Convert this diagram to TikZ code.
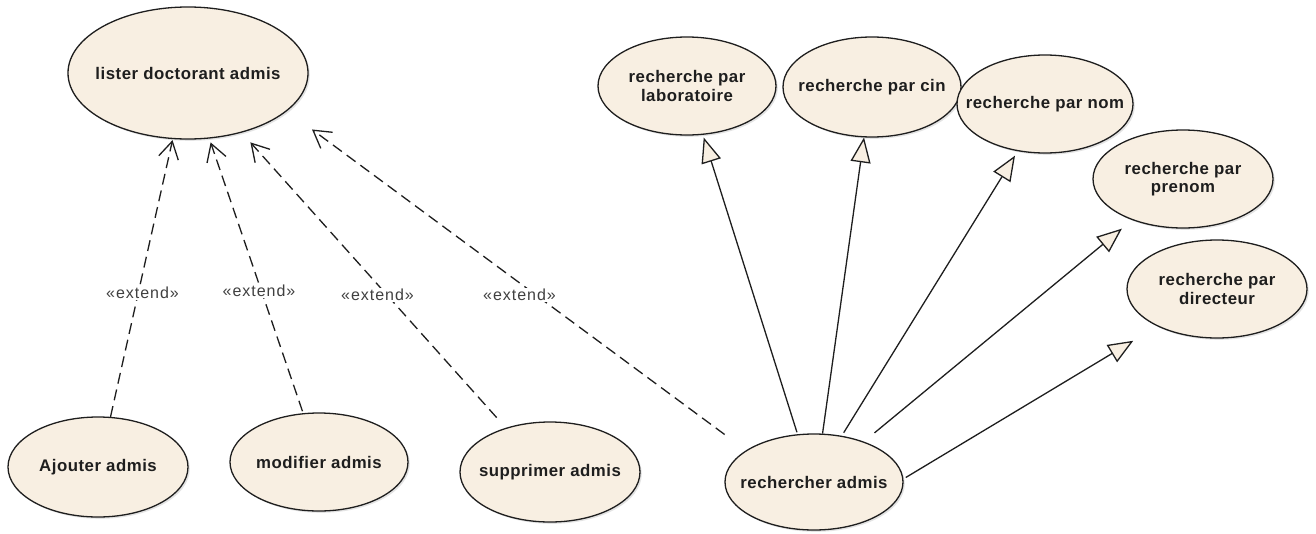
\documentclass[tikz,border=0pt]{standalone}
\usepackage{fontspec}
\setmainfont{Liberation Sans}[LetterSpace=3]
\newfontfamily\lblfont[LetterSpace=6]{Liberation Sans}
\usetikzlibrary{shapes.geometric,arrows.meta,shadows}
\definecolor{cream}{RGB}{248,239,226}
\definecolor{ink}{RGB}{30,30,30}
\begin{document}
\begin{tikzpicture}[x=1pt,y=-1pt,
  uc/.style={ellipse, draw=ink, line width=1.3pt, fill=cream, inner sep=0pt,
    drop shadow={shadow xshift=1.8pt, shadow yshift=-1.8pt, opacity=0.22}},
  uctxt/.style={align=center, inner sep=0pt, text=ink,
    font=\bfseries\fontsize{16.8}{18.5}\selectfont},
  ext/.style={draw=ink, line width=1.3pt, dash pattern=on 11pt off 6pt,
    -{Straight Barb[length=17pt,width=20pt,line width=1.3pt]}},
  gen/.style={draw=ink, line width=1.3pt,
    -{Triangle[length=25pt,width=20pt,fill=cream,line width=1.3pt]}},
  lbl/.style={fill=white, inner sep=1.5pt, text=ink!85,
    font=\lblfont\fontsize{16}{18}\selectfont}
]
\useasboundingbox (0,0) rectangle (1316,533);
\fill[white] (0,0) rectangle (1316,533);

% use cases
\node[uc, minimum width=240pt, minimum height=132pt,
  label={[uctxt]center:lister doctorant admis}] (lister) at (188,73) {};
\node[uc, minimum width=178pt, minimum height=98pt,
  label={[uctxt]center:recherche par\\laboratoire}] (lab) at (687,86) {};
\node[uc, minimum width=178pt, minimum height=100pt,
  label={[uctxt]center:recherche par cin}] (cin) at (872,87) {};
\node[uc, minimum width=176pt, minimum height=98pt,
  label={[uctxt]center:recherche par nom}] (nom) at (1045,104) {};
\node[uc, minimum width=180pt, minimum height=98pt,
  label={[uctxt]center:recherche par\\prenom}] (prenom) at (1183,179) {};
\node[uc, minimum width=180pt, minimum height=98pt,
  label={[uctxt]center:recherche par\\directeur}] (dir) at (1217,289) {};
\node[uc, minimum width=180pt, minimum height=100pt,
  label={[uctxt]center:Ajouter admis}] (ajouter) at (98,467) {};
\node[uc, minimum width=178pt, minimum height=98pt,
  label={[uctxt]center:modifier admis}] (modifier) at (319,462) {};
\node[uc, minimum width=180pt, minimum height=100pt,
  label={[uctxt]center:supprimer admis}] (supprimer) at (550,472) {};
\node[uc, minimum width=178pt, minimum height=96pt,
  label={[uctxt]center:rechercher admis}] (rech) at (814,482) {};

% extend relations
\draw[ext, shorten >=1pt] (ajouter.76.5) -- (lister.-103.4);
\draw[ext, shorten <=2pt, shorten >=4pt] (modifier.108.8) -- (lister.-72.4);
\draw[ext, shorten <=13.7pt, shorten >=13pt] (supprimer.135) -- (lister.-48);
\draw[ext, shorten <=26.6pt, shorten >=31pt] (rech.155.2) -- (lister.-21.9);

\node[lbl] (x1) at (142.5,293) {«extend»};
\node[lbl] (x2) at (259,291) {«extend»};
\node[lbl] (x3) at (377.5,295) {«extend»};
\node[lbl] (x4) at (519.5,295) {«extend»};

% generalizations
\draw[gen, shorten <=2pt, shorten >=2.8pt] (rech.109.2) -- (lab.-72.6);
\draw[gen] (rech.80.7) -- (cin.-99.1);
\draw[gen, shorten <=3.6pt, shorten >=5.2pt] (rech.59.5) -- (nom.-120.3);
\draw[gen, shorten <=13.7pt, shorten >=13.4pt] (rech.39.8) -- (prenom.-141.4);
\draw[gen, shorten <=2.7pt, shorten >=28pt] (rech.2.3) -- (dir.-148.6);
\end{tikzpicture}
\end{document}
